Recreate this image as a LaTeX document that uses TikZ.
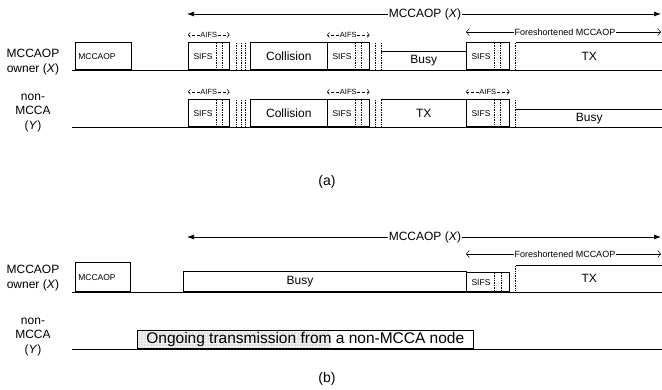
\documentclass[tikz,border=0pt]{standalone}
\usepackage{fontspec}
\setmainfont{Liberation Sans}
\usetikzlibrary{arrows.meta}

\tikzset{
  slot/.style={draw, line width=0.6pt, inner sep=0pt, anchor=south west},
  open slot/.style={inner sep=0pt, anchor=south west},
  gapline/.style={densely dotted, line width=0.7pt},
  timeline/.style={line width=1pt},
  span/.style={line width=0.7pt, -{Latex[length=7pt,width=5pt]}},
  shortspan/.style={line width=0.5pt, -{Straight Barb[length=3pt,width=7pt]}},
  aifsspan/.style={densely dashed, line width=0.5pt, -{Straight Barb[length=2pt,width=5pt]}},
  lbl/.style={font=\fontsize{12}{14.5}\selectfont, align=center},
  bigtext/.style={font=\fontsize{12}{14}\selectfont},
  sifstext/.style={font=\fontsize{8.5}{10}\selectfont},
  aifstext/.style={font=\fontsize{7.5}{9}\selectfont, inner sep=0.5pt},
  foretext/.style={font=\fontsize{9}{10}\selectfont, inner sep=1pt},
  ongoingtext/.style={font=\fontsize{15.5}{17}\selectfont},
  captext/.style={font=\fontsize{14}{16}\selectfont},
}

\begin{document}
\begin{tikzpicture}[x=1pt, y=-1pt]
\useasboundingbox (0,0) rectangle (662,389);

% ---------- (a) ----------
\node[lbl] (ownerA) at (33,62) {MCCAOP\\owner (\textit{X})};
\node[lbl] (nonA) at (33,113) {non-\\MCCA\\(\textit{Y})};

\draw[timeline] (72,70) -- (662,70);
\draw[timeline] (72,127) -- (662,127);

\coordinate (spanAl) at (187,14);
\coordinate (spanAr) at (661,14);
\node[lbl, inner sep=1pt] (spanA) at (425,14) {MCCAOP (\textit{X})};
\draw[span] (spanA.west) -- (spanAl);
\draw[span] (spanA.east) -- (spanAr);

\coordinate (foreAl) at (466,32);
\coordinate (foreAr) at (661,32);
\node[foretext] (foreA) at (565,32) {Foreshortened MCCAOP};
\draw[shortspan] (foreA.west) -- (foreAl);
\draw[shortspan] (foreA.east) -- (foreAr);

\node[slot, sifstext, minimum width=56pt, minimum height=27pt, text width=50pt, align=left] (mccaopA) at (75,70) {MCCAOP};

% SIFS blocks and gaps, both rows
\foreach \r/\yb/\yt in {1/70/43, 2/127/100} {
  \foreach \n/\xx/\w in {1/188/41, 2/327/42, 3/466/43} {
    \node[slot, minimum width=\w pt, minimum height=27pt] (sifs\r\n) at (\xx,\yb) {};
    \node[sifstext, anchor=west] (sifs\r\n t) at ([xshift=2pt]sifs\r\n.west) {SIFS};
    \draw[gapline] (\xx+28,\yt) -- (\xx+28,\yb);
    \draw[gapline] (\xx+34,\yt) -- (\xx+34,\yb);
  }
  \foreach \xx in {236,241,245,375,381,515}
    \draw[gapline] (\xx,\yt) -- (\xx,\yb);
  \node[slot, bigtext, minimum width=77pt, minimum height=27pt] (coll\r) at (250,\yb) {Collision};
}

\node[open slot, bigtext, minimum width=85pt, minimum height=18pt] (busyA) at (381,70) {Busy};
\draw[line width=0.6pt] (busyA.north west) -- (busyA.north east);
\node[open slot, bigtext, minimum width=146pt, minimum height=27pt] (txA) at (516,70) {TX};
\draw[line width=0.6pt] (txA.north west) -- (txA.north east);

\node[open slot, bigtext, minimum width=85pt, minimum height=27pt] (txY) at (381,127) {TX};
\draw[line width=0.6pt] (txY.north west) -- (txY.north east);
\node[open slot, bigtext, minimum width=146pt, minimum height=17pt] (busyY) at (516,127) {Busy};
\draw[line width=0.6pt] (busyY.north west) -- (busyY.north east);

% AIFS spans
\foreach \b in {11,12,21,22,23} {
  \node[aifstext] (aifs\b) at ([yshift=7.5pt]sifs\b.north) {AIFS};
  \draw[aifsspan] (aifs\b.west) -- (aifs\b.west -| sifs\b.west);
  \draw[aifsspan] (aifs\b.east) -- (aifs\b.east -| sifs\b.east);
}

\node[captext] (capA) at (327,182) {(a)};

% ---------- (b) ----------
\node[lbl] (ownerB) at (33,278) {MCCAOP\\owner (\textit{X})};
\node[lbl] (nonB) at (33,337) {non-\\MCCA\\(\textit{Y})};

\draw[timeline] (72,292) -- (662,292);
\draw[timeline] (72,349) -- (662,349);

\coordinate (spanBl) at (187,237);
\coordinate (spanBr) at (661,237);
\node[lbl, inner sep=1pt] (spanB) at (425,237) {MCCAOP (\textit{X})};
\draw[span] (spanB.west) -- (spanBl);
\draw[span] (spanB.east) -- (spanBr);

\coordinate (foreBl) at (466,254);
\coordinate (foreBr) at (661,254);
\node[foretext] (foreB) at (565,254) {Foreshortened MCCAOP};
\draw[shortspan] (foreB.west) -- (foreBl);
\draw[shortspan] (foreB.east) -- (foreBr);

\node[slot, sifstext, minimum width=55pt, minimum height=29pt, text width=49pt, align=left] (mccaopB) at (75,292) {MCCAOP};
\node[slot, minimum width=283pt, minimum height=20pt] (busyB) at (183,292) {};
\node[bigtext] (busyBt) at (300,282) {Busy};
\node[slot, minimum width=43pt, minimum height=19pt] (sifsB) at (466,292) {};
\node[sifstext, anchor=west] (sifsBt) at ([xshift=2pt]sifsB.west) {SIFS};
\draw[gapline] (494,273) -- (494,292);
\draw[gapline] (501,273) -- (501,292);
\draw[gapline] (515,266) -- (515,292);
\node[open slot, bigtext, minimum width=146pt, minimum height=26pt] (txB) at (516,292) {TX};
\draw[line width=0.6pt] (txB.north west) -- (txB.north east);

% stippled part of the ongoing transmission
\fill[gray!12] (137,331) rectangle (331,349);
\foreach \i in {0,...,63}
  \foreach \j in {0,...,5}
    \fill[gray!70] (139+3*\i, 333+3*\j) circle (0.55pt);
\node[slot, ongoingtext, minimum width=336pt, minimum height=18pt] (ongoing) at (137,349) {Ongoing transmission from a non-MCCA node};

\node[captext] (capB) at (327,379) {(b)};
\end{tikzpicture}
\end{document}
